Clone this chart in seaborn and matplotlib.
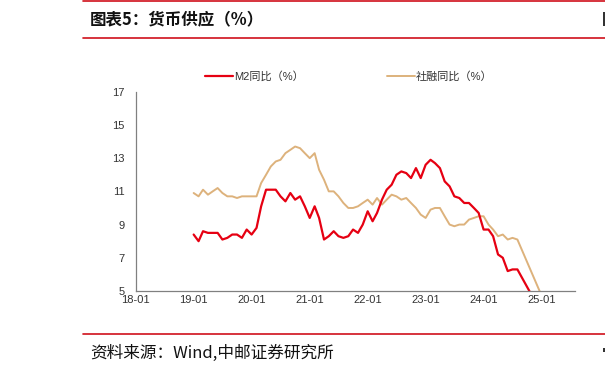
import pandas as pd
import matplotlib
matplotlib.use('Agg')
import matplotlib.pyplot as plt
import matplotlib.dates as mdates
from matplotlib.lines import Line2D
from matplotlib.patches import Rectangle
import seaborn as sns

# Monthly data, 2019-01 .. 2024-08, then the trailing zero the source file ends with
months = list(pd.date_range('2019-01-01', '2024-08-01', freq='MS').strftime('%Y-%m')) + ['2025-08']

m2_yoy = [8.4, 8.0, 8.6, 8.5, 8.5, 8.5, 8.1, 8.2, 8.4, 8.4, 8.2, 8.7,
          8.4, 8.8, 10.1, 11.1, 11.1, 11.1, 10.7, 10.4, 10.9, 10.5, 10.7, 10.1,
          9.4, 10.1, 9.4, 8.1, 8.3, 8.6, 8.3, 8.2, 8.3, 8.7, 8.5, 9.0,
          9.8, 9.2, 9.7, 10.5, 11.1, 11.4, 12.0, 12.2, 12.1, 11.8, 12.4, 11.8,
          12.6, 12.9, 12.7, 12.4, 11.6, 11.3, 10.7, 10.6, 10.3, 10.3, 10.0, 9.7,
          8.7, 8.7, 8.3, 7.2, 7.0, 6.2, 6.3, 6.3,
          0.0]

tsf_yoy = [10.9, 10.7, 11.1, 10.8, 11.0, 11.2, 10.9, 10.7, 10.7, 10.6, 10.7, 10.7,
           10.7, 10.7, 11.5, 12.0, 12.5, 12.8, 12.9, 13.3, 13.5, 13.7, 13.6, 13.3,
           13.0, 13.3, 12.3, 11.7, 11.0, 11.0, 10.7, 10.3, 10.0, 10.0, 10.1, 10.3,
           10.5, 10.2, 10.6, 10.2, 10.5, 10.8, 10.7, 10.5, 10.6, 10.3, 10.0, 9.6,
           9.4, 9.9, 10.0, 10.0, 9.5, 9.0, 8.9, 9.0, 9.0, 9.3, 9.4, 9.5,
           9.5, 9.0, 8.7, 8.3, 8.4, 8.1, 8.2, 8.1,
           0.0]

y_ticks = [5, 7, 9, 11, 13, 15, 17]
legend_labels = ['M2同比（%）', '社融同比（%）']

df = pd.DataFrame({'date': pd.to_datetime(months), 'M2': m2_yoy, 'TSF': tsf_yoy})

red = '#E60012'
tan = '#DDB27C'
frame_red = '#D0101B'

sns.set_style('white')
plt.rcParams['font.family'] = ['Liberation Sans', 'Noto Sans CJK SC', 'DejaVu Sans']

fig = plt.figure(figsize=(6.05, 3.74), dpi=100)
ax = fig.add_axes([0.2243, 0.2219, 0.951 - 0.2243, 0.7548 - 0.2219])

sns.lineplot(data=df, x='date', y='TSF', ax=ax, color=tan, linewidth=1.4)
sns.lineplot(data=df, x='date', y='M2', ax=ax, color=red, linewidth=1.6)

ax.set_xlim(pd.Timestamp('2018-01-01'), pd.Timestamp('2025-08-01'))
ax.set_ylim(5, 17)
ax.set_yticks(y_ticks)
ax.xaxis.set_major_locator(mdates.YearLocator(month=1))
ax.xaxis.set_major_formatter(mdates.DateFormatter('%y-%m'))
ax.set_xlabel('')
ax.set_ylabel('')

for s in ['top', 'right']:
    ax.spines[s].set_visible(False)
for s in ['left', 'bottom']:
    ax.spines[s].set_color('#808080')
    ax.spines[s].set_linewidth(0.9)
ax.tick_params(axis='both', direction='in', length=3, width=0.8, color='#808080',
               labelsize=8, labelcolor='#333333', pad=3)
ax.tick_params(axis='y', pad=8)

# legend above the plot
handles = [Line2D([], [], color=red, lw=1.6), Line2D([], [], color=tan, lw=1.4)]
fig.legend(handles, legend_labels, ncol=2, frameon=False,
           loc='center', bbox_to_anchor=(349 / 605, 1 - 76.7 / 374), fontsize=8,
           handlelength=2.5, handletextpad=0.1, columnspacing=7.5,
           labelcolor='#333333')

# report frame: red rules, title, source
for yy in [0.997, 1 - 38.3 / 374, 1 - 334.3 / 374]:
    fig.add_artist(Line2D([0.137, 1.0], [yy, yy], color=frame_red, lw=1.2,
                          transform=fig.transFigure))

cjk = ['Noto Sans CJK SC', 'DejaVu Sans']
fig.text(0.149, 1 - 19.5 / 374, '图表5：货币供应（%）', fontsize=11.9, fontweight='bold',
         family=cjk, va='center', ha='left', color='#111111')
fig.text(0.149, 1 - 353 / 374, '资料来源：Wind,中邮证券研究所', fontsize=12,
         family=cjk, va='center', ha='left', color='#111111')

# slivers of the neighbouring column cut off at the right edge
for y0, h in [(12, 14), (348, 4)]:
    fig.add_artist(Rectangle((602.5 / 605, 1 - (y0 + h) / 374), 2.5 / 605, h / 374,
                             transform=fig.transFigure, color='#333333', lw=0))

plt.savefig('out.png', dpi=100)
plt.close()
